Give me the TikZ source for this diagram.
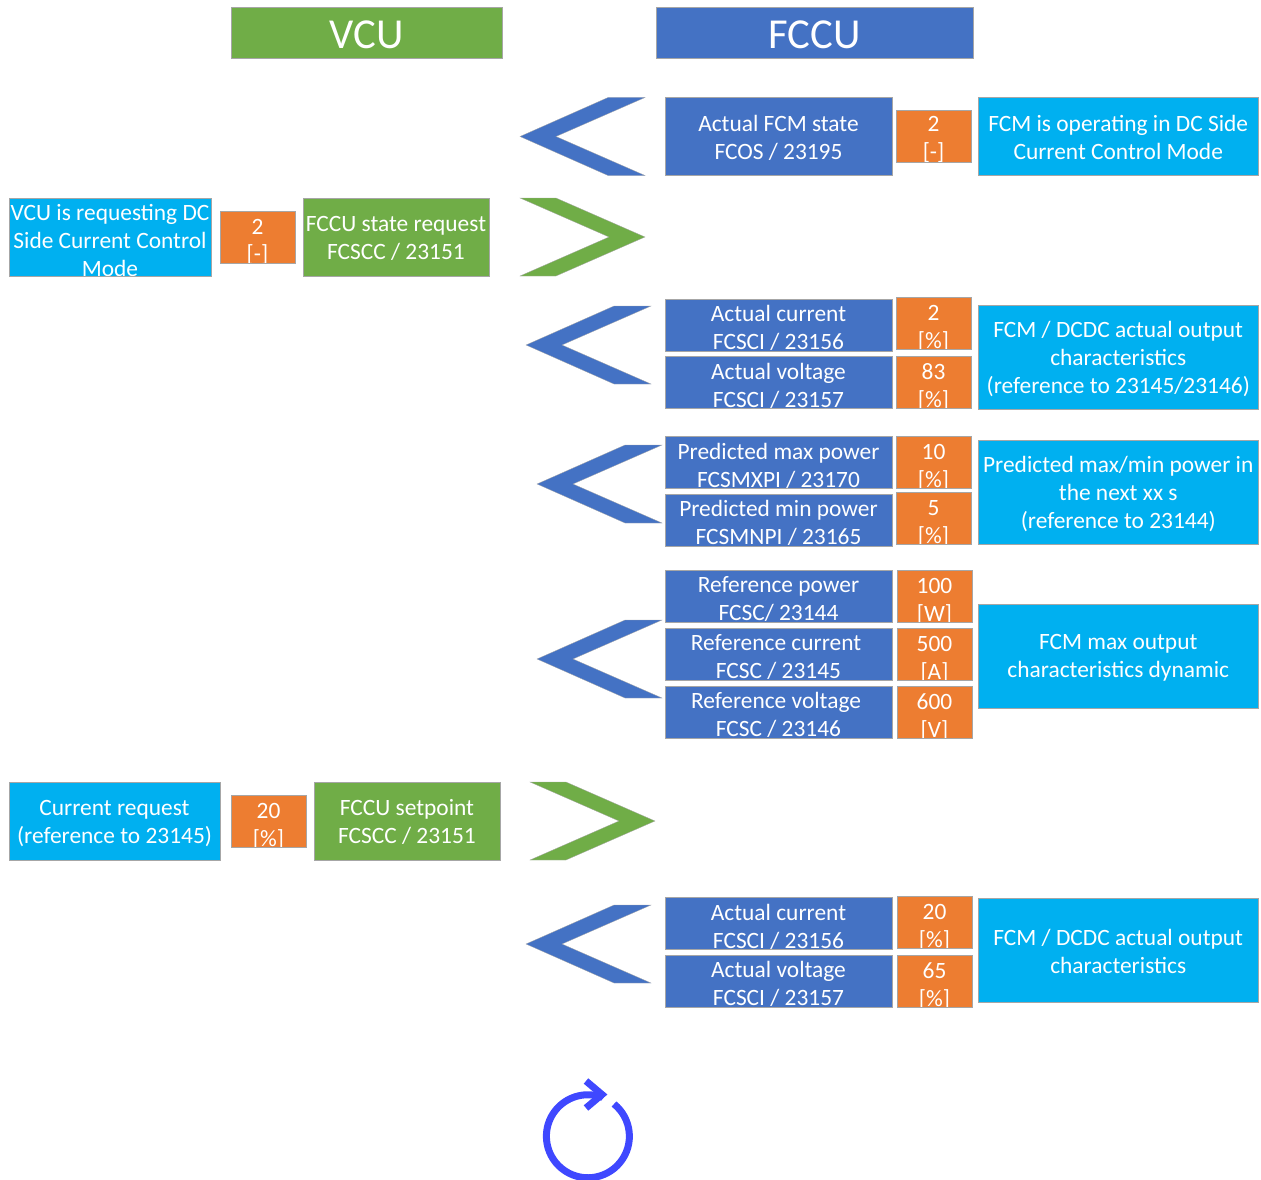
\documentclass[tikz,border=0pt]{standalone}
\usepackage{fontspec}
\setmainfont{Carlito}
\definecolor{fcblue}{HTML}{4472C4}
\definecolor{vcgreen}{HTML}{70AD47}
\definecolor{valorange}{HTML}{ED7D31}
\definecolor{txtcyan}{HTML}{00B0F0}
\definecolor{loopblue}{HTML}{3F48FF}
\tikzset{
	box/.style={draw=black!35,line width=0.8pt,inner sep=0pt,outer sep=0pt},
	boxlabel/.style={inner sep=0pt,text=white,align=center,font=\fontsize{23.4}{28}\selectfont},
	headlabel/.style={boxlabel,font=\fontsize{42.7}{48}\selectfont},
	% text is cut off at the edge of its box
	boxtext/.style 2 args={path picture={\node[boxlabel] (lbl) at ([yshift=-#1pt]path picture bounding box.center) {#2};}},
	headtext/.style={path picture={\node[headlabel] (lbl) at ([yshift=-2pt]path picture bounding box.center) {#1};}},
	header/.style={box,minimum height=51pt},
	bluebox/.style={box,fill=fcblue,minimum width=227pt,minimum height=52pt},
	greenbox/.style={box,fill=vcgreen,minimum height=78pt},
	valbox/.style={box,fill=valorange,minimum width=75pt,minimum height=52pt},
	cyanbox/.style={box,fill=txtcyan,minimum width=280.5pt,minimum height=104pt},
	chevron/.style={draw=black!35,line width=0.3pt}
}
\begin{document}
\begin{tikzpicture}[x=1pt,y=-1pt]
	\useasboundingbox (0,0) rectangle (1261,1180);
	% headers
	\node[header,fill=vcgreen,minimum width=271.5pt,headtext={VCU}] (vcu) at (367,32.5) {};
	\node[header,fill=fcblue,minimum width=316.5pt,headtext={FCCU}] (fccu) at (814.75,32.5) {};
	% arrows between the two sides
	\foreach \x/\y in {520/136.5,526/345,537/484,537/659,526/944}
		\fill[chevron,fill=fcblue] (\x,\y) -- ++(88,-39) -- ++(37,0) -- ++(-89,39) -- ++(89,39) -- ++(-37,0) -- cycle;
	\foreach \x/\y in {520/237,530/821}
		\fill[chevron,fill=vcgreen] (\x,\y-39) -- ++(36,0) -- ++(89,39) -- ++(-89,39) -- ++(-36,0) -- ++(89,-39) -- cycle;
	% fcos
	\node[bluebox,minimum height=78pt,boxtext={1}{Actual FCM state\\FCOS / 23195}] (fcos) at (778.5,136.5) {};
	\node[valbox,boxtext={4}{2\\{[-]}}] (fcosval) at (933.5,136) {};
	\node[cyanbox,minimum height=78pt,boxtext={0.5}{FCM is operating in DC Side\\Current Control Mode}] (fcostxt) at (1118.25,136.5) {};
	% fcscc state
	\node[cyanbox,minimum width=202pt,minimum height=78pt,boxtext={3}{VCU is requesting DC\\Side Current Control\\Mode}] (statetxt) at (110,237) {};
	\node[valbox,boxtext={5}{2\\{[-]}}] (stateval) at (257.5,237) {};
	\node[greenbox,minimum width=186pt,boxtext={1}{FCCU state request\\FCSCC / 23151}] (state) at (396,237.5) {};
	% fcsci
	\node[bluebox,boxtext={3}{Actual current\\FCSCI / 23156}] (curra) at (778.5,325) {};
	\node[bluebox,boxtext={3}{Actual voltage\\FCSCI / 23157}] (volta) at (778.5,382.5) {};
	\node[valbox,boxtext={5}{2\\{[\%]}}] (curraval) at (933.5,323) {};
	\node[valbox,boxtext={5}{83\\{[\%]}}] (voltaval) at (933.5,382) {};
	\node[cyanbox,boxtext={1.5}{FCM / DCDC actual output\\characteristics\\(reference to 23145/23146)}] (actatxt) at (1118.25,357) {};
	% predicted
	\node[bluebox,boxtext={3}{Predicted max power\\FCSMXPI / 23170}] (maxp) at (778.5,462.5) {};
	\node[bluebox,boxtext={3}{Predicted min power\\FCSMNPI / 23165}] (minp) at (778.5,520) {};
	\node[valbox,boxtext={5}{10\\{[\%]}}] (maxpval) at (933.5,462) {};
	\node[valbox,boxtext={5}{5\\{[\%]}}] (minpval) at (933.5,518.5) {};
	\node[cyanbox,boxtext={1.5}{Predicted max/min power in\\the next xx s\\(reference to 23144)}] (predtxt) at (1118.25,492) {};
	% references
	\node[bluebox,boxtext={2.5}{Reference power\\FCSC/ 23144}] (refp) at (778.5,596.5) {};
	\node[bluebox,boxtext={2.5}{Reference current\hspace*{5pt}\\FCSC / 23145}] (refc) at (778.5,654.5) {};
	\node[bluebox,boxtext={2.5}{Reference voltage\hspace*{5pt}\\FCSC / 23146}] (refv) at (778.5,712.5) {};
	\node[valbox,boxtext={4.5}{100\\{[W]}}] (refpval) at (934.5,596.5) {};
	\node[valbox,boxtext={4.5}{500\\{[A]}}] (refcval) at (934.5,654.5) {};
	\node[valbox,boxtext={4.5}{600\\{[V]}}] (refvval) at (934.5,712.5) {};
	\node[cyanbox,boxtext={2}{FCM max output\\characteristics dynamic}] (reftxt) at (1118.25,656) {};
	% setpoint
	\node[cyanbox,minimum width=211pt,minimum height=78pt,boxtext={2.5}{Current request\\(reference to 23145)}] (settxt) at (114.5,821) {};
	\node[valbox,boxtext={5}{20\\{[\%]}}] (setval) at (268.5,821) {};
	\node[greenbox,minimum width=186pt,boxtext={0.5}{FCCU setpoint\\FCSCC / 23151}] (setp) at (407,821) {};
	% fcsci again
	\node[bluebox,boxtext={3}{Actual current\\FCSCI / 23156}] (currb) at (778.5,923.5) {};
	\node[bluebox,boxtext={3}{Actual voltage\\FCSCI / 23157}] (voltb) at (778.5,981) {};
	\node[valbox,boxtext={5}{20\\{[\%]}}] (currbval) at (934.5,922) {};
	\node[valbox,boxtext={5}{65\\{[\%]}}] (voltbval) at (934.5,981) {};
	\node[cyanbox,boxtext={1}{FCM / DCDC actual output\\characteristics}] (actbtxt) at (1118.25,950) {};
	% repeat
	\draw[loopblue,line width=7pt] (614,1104) arc[start angle=-51,delta angle=338,radius=41.5] -- (602,1094);
	\draw[loopblue,line width=7pt,miter limit=4] (586,1081) -- (602,1094.5) -- (586,1108);
\end{tikzpicture}
\end{document}
